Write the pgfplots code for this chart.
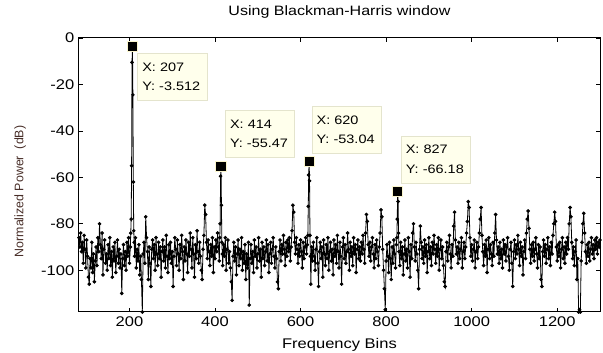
\documentclass[border=0pt]{standalone}
\usepackage{fontspec}
\setmainfont{Liberation Sans}[FakeStretch=1.18]
\newfontfamily\plainfont{Liberation Sans}
\usepackage{pgfplots}
\pgfplotsset{compat=1.18}
\definecolor{tipfill}{RGB}{255,255,236}
\definecolor{tipdraw}{RGB}{228,228,205}
\definecolor{tipedge}{RGB}{250,245,205}
\definecolor{ylab}{RGB}{72,46,40}
\begin{document}
\begin{tikzpicture}[tip/.style={draw=tipdraw, fill=tipfill, line width=0.4pt, text width=45pt, align=left, inner xsep=3.4pt, minimum height=35.25pt, font=\fontsize{9.2}{14.5}\selectfont}]
\path[use as bounding box] (-59.25pt,-30.75pt) rectangle (393pt,234pt);
\begin{axis}[
  scale only axis, width=390.75pt, height=205.5pt,
  xmin=82, xmax=1300, ymin=-118, ymax=0,
  xtick={200,400,...,1200}, ytick={-100,-80,...,0},
  tick align=inside, major tick length=3pt,
  axis line style={line width=0.75pt},
  every tick/.style={black, line width=0.5pt},
  /pgf/number format/assume math mode=true,
  /pgf/number format/1000 sep={},
  ticklabel style={font=\fontsize{10.5}{12}\selectfont},
  title={Using Blackman-Harris window},
  title style={font=\fontsize{10.2}{12}\selectfont, at={(axis description cs:0.5,1)}, anchor=center, yshift=13.5pt},
  xlabel={Frequency Bins},
  xlabel style={font=\fontsize{10.5}{12}\selectfont, at={(axis description cs:0.5,0)}, anchor=center, yshift=-24.5pt},
  ylabel={Normalized Power\ \ (dB)},
  ylabel style={font=\plainfont\fontsize{9.3}{12}\selectfont, text=ylab, at={(axis description cs:-0.113,0.44)}, anchor=center},
]
\addplot[black, line width=0.6pt, mark=*, mark size=1.05pt] coordinates {
(82,-86) (84,-90) (86,-84) (88,-92) (90,-88) (92,-97) (94,-85) (96,-91) (98,-99) (100,-87)
(102,-94) (104,-103) (106,-106) (108,-95) (110,-99) (112,-88) (114,-101) (116,-93) (118,-105) (120,-96)
(122,-90) (124,-98) (126,-86) (128,-92) (130,-80) (132,-89) (134,-95) (136,-84) (138,-102) (140,-91)
(142,-87) (144,-97) (146,-93) (148,-100) (150,-89) (152,-95) (154,-86) (156,-98) (158,-92) (160,-103)
(162,-90) (164,-96) (166,-88) (168,-101) (170,-94) (172,-87) (174,-97) (176,-91) (178,-99) (180,-93)
(182,-110) (184,-95) (186,-89) (188,-98) (190,-92) (192,-100) (194,-88) (196,-94) (198,-86) (200,-97)
(202,-90) (203,-84) (204,-78) (205,-55) (206,-10.5) (207,-3.512) (208,-24.5) (209,-62) (210,-83) (211,-88) (212,-94)
(214,-86) (216,-99) (218,-91) (220,-96) (222,-89) (224,-102) (226,-94) (228,-104) (230,-118) (232,-93)
(234,-88) (236,-97) (238,-77) (240,-86) (242,-92) (244,-104) (246,-90) (248,-97) (250,-107) (252,-91)
(254,-87) (256,-95) (258,-89) (260,-100) (262,-86) (264,-93) (266,-98) (268,-88) (270,-95) (272,-90)
(274,-103) (276,-92) (278,-87) (280,-96) (282,-90) (284,-99) (286,-85) (288,-94) (290,-101) (292,-89)
(294,-95) (296,-88) (298,-97) (300,-92) (302,-107) (304,-94) (306,-86) (308,-91) (310,-98) (312,-87)
(314,-93) (316,-100) (318,-89) (320,-95) (322,-85) (324,-92) (326,-104) (328,-90) (330,-96) (332,-87)
(334,-93) (336,-101) (338,-88) (340,-94) (342,-84) (344,-91) (346,-99) (348,-86) (350,-93) (352,-103)
(354,-89) (356,-95) (358,-83) (360,-92) (362,-97) (364,-88) (366,-94) (368,-100) (370,-104) (372,-91)
(374,-85) (376,-72) (378,-76) (380,-88) (382,-95) (384,-87) (386,-92) (388,-98) (390,-89) (392,-94)
(394,-86) (396,-101) (398,-90) (400,-95) (402,-87) (404,-92) (406,-84) (408,-90) (410,-96) (411,-86) (412,-80) (413,-59.5) (414,-55.47) (415,-72) (416,-88) (417,-93)
(418,-98) (420,-89) (422,-94) (424,-86) (426,-100) (428,-91) (430,-87) (432,-97) (434,-92) (436,-99)
(438,-105) (440,-113) (442,-94) (444,-88) (446,-96) (448,-90) (450,-102) (452,-93) (454,-87) (456,-98)
(458,-91) (460,-95) (462,-86) (464,-100) (466,-92) (468,-97) (470,-89) (472,-104) (474,-93) (476,-99)
(478,-88) (480,-115) (482,-95) (484,-89) (486,-97) (488,-92) (490,-101) (492,-87) (494,-94) (496,-90)
(498,-99) (500,-93) (502,-86) (504,-96) (506,-91) (508,-103) (510,-88) (512,-95) (514,-90) (516,-98)
(518,-92) (520,-87) (522,-96) (524,-89) (526,-101) (528,-93) (530,-88) (532,-97) (534,-91) (536,-86)
(538,-94) (540,-99) (542,-90) (544,-95) (546,-105) (548,-108) (550,-92) (552,-87) (554,-96) (556,-89)
(558,-93) (560,-85) (562,-91) (564,-98) (566,-88) (568,-94) (570,-87) (572,-92) (574,-86) (576,-96)
(578,-90) (580,-83) (582,-72) (584,-75) (586,-88) (588,-93) (590,-86) (592,-91) (594,-97) (596,-89)
(598,-94) (600,-87) (602,-92) (604,-99) (606,-88) (608,-95) (610,-90) (612,-86) (614,-93) (616,-89) (617,-85) (618,-72.5) (619,-59) (620,-53.04) (621,-61.5) (622,-85) (623,-94)
(624,-106) (626,-90) (628,-96) (630,-88) (632,-94) (634,-100) (636,-91) (638,-86) (640,-97) (642,-107)
(644,-92) (646,-88) (648,-95) (650,-90) (652,-103) (654,-87) (656,-93) (658,-98) (660,-89) (662,-95)
(664,-86) (666,-100) (668,-92) (670,-88) (672,-96) (674,-91) (676,-102) (678,-87) (680,-94) (682,-89)
(684,-97) (686,-85) (688,-92) (690,-99) (692,-88) (694,-94) (696,-106) (698,-90) (700,-86) (702,-95)
(704,-89) (706,-97) (708,-92) (710,-84) (712,-91) (714,-100) (716,-88) (718,-94) (720,-90) (722,-98)
(724,-86) (726,-93) (728,-89) (730,-101) (732,-91) (734,-87) (736,-95) (738,-90) (740,-96) (742,-88)
(744,-93) (746,-85) (748,-91) (750,-97) (752,-84) (754,-76) (756,-79) (758,-89) (760,-94) (762,-88)
(764,-96) (766,-90) (768,-86) (770,-93) (772,-99) (774,-89) (776,-95) (778,-87) (780,-92) (782,-98)
(784,-90) (786,-84) (788,-74) (790,-77) (792,-91) (794,-100) (796,-108) (798,-117) (800,-96) (802,-89)
(804,-94) (806,-101) (808,-88) (810,-95) (812,-104) (814,-90) (816,-97) (818,-87) (820,-93) (822,-99)
(824,-89) (825,-86) (826,-78) (827,-66.18) (828,-70.4) (829,-84) (830,-92) (832,-98) (834,-88) (836,-95) (838,-90) (840,-102)
(842,-93) (844,-87) (846,-96) (848,-91) (850,-99) (852,-86) (854,-92) (856,-103) (858,-89) (860,-95)
(862,-84) (864,-80) (866,-90) (868,-96) (870,-88) (872,-93) (874,-100) (876,-108) (878,-91) (880,-81)
(882,-88) (884,-95) (886,-90) (888,-97) (890,-87) (892,-94) (894,-89) (896,-101) (898,-92) (900,-86)
(902,-95) (904,-90) (906,-98) (908,-88) (910,-93) (912,-85) (914,-91) (916,-97) (918,-89) (920,-94)
(922,-86) (924,-100) (926,-91) (928,-87) (930,-95) (932,-90) (934,-98) (936,-105) (938,-107) (940,-92)
(942,-88) (944,-96) (946,-90) (948,-85) (950,-93) (952,-99) (954,-89) (956,-94) (958,-81) (960,-75)
(962,-87) (964,-93) (966,-90) (968,-97) (970,-88) (972,-95) (974,-91) (976,-86) (978,-99) (980,-92)
(982,-88) (984,-95) (986,-90) (988,-84) (990,-79) (992,-70.5) (994,-73) (996,-86) (998,-94) (1000,-89)
(1002,-96) (1004,-91) (1006,-87) (1008,-99) (1010,-92) (1012,-88) (1014,-95) (1016,-90) (1018,-84) (1020,-78)
(1022,-73) (1024,-85) (1026,-92) (1028,-98) (1030,-89) (1032,-94) (1034,-87) (1036,-101) (1038,-91) (1040,-86)
(1042,-95) (1044,-89) (1046,-93) (1048,-98) (1050,-88) (1052,-94) (1054,-84) (1056,-76) (1058,-87) (1060,-93)
(1062,-90) (1064,-97) (1066,-88) (1068,-95) (1070,-91) (1072,-99) (1074,-87) (1076,-93) (1078,-89) (1080,-96)
(1082,-90) (1084,-86) (1086,-94) (1088,-100) (1090,-91) (1092,-88) (1094,-97) (1096,-107) (1098,-92) (1100,-87)
(1102,-95) (1104,-89) (1106,-93) (1108,-85) (1110,-91) (1112,-98) (1114,-88) (1116,-94) (1118,-90) (1120,-102)
(1122,-92) (1124,-87) (1126,-95) (1128,-84) (1130,-78) (1132,-74.5) (1134,-82) (1136,-91) (1138,-97) (1140,-89)
(1142,-94) (1144,-88) (1146,-96) (1148,-91) (1150,-86) (1152,-93) (1154,-99) (1156,-89) (1158,-95) (1160,-90)
(1162,-104) (1164,-107) (1166,-92) (1168,-87) (1170,-94) (1172,-89) (1174,-97) (1176,-91) (1178,-86) (1180,-95)
(1182,-90) (1184,-98) (1186,-88) (1188,-93) (1190,-85) (1192,-80) (1194,-75) (1196,-79) (1198,-90) (1200,-96)
(1202,-89) (1204,-94) (1206,-88) (1208,-99) (1210,-91) (1212,-86) (1214,-95) (1216,-90) (1218,-97) (1220,-88)
(1222,-93) (1224,-86) (1226,-91) (1228,-80) (1230,-73) (1232,-77) (1234,-88) (1236,-95) (1238,-90) (1240,-98)
(1242,-92) (1244,-87) (1246,-104) (1248,-95) (1250,-118) (1252,-117) (1254,-118) (1256,-96) (1258,-88) (1260,-80)
(1262,-75.5) (1264,-84) (1266,-92) (1268,-97) (1270,-89) (1272,-94) (1274,-88) (1276,-96) (1278,-91) (1280,-86)
(1282,-93) (1284,-89) (1286,-95) (1288,-87) (1290,-91) (1292,-86) (1294,-93) (1296,-88) (1298,-90) (1300,-87)
};
\addplot[only marks, mark=square*, mark size=3.8pt, mark options={fill=black, draw=tipedge, line width=0.7pt}] coordinates {
(207,-3.512) (414,-55.47) (620,-53.04) (827,-66.18)
};
\node[tip, anchor=north west, xshift=3.75pt, yshift=-4.9pt] at (axis cs:207,-3.512) {X: 207\\Y: -3.512};
\node[tip, anchor=south west, xshift=3.15pt, yshift=6.75pt] at (axis cs:414,-55.47) {X: 414\\Y: -55.47};
\node[tip, anchor=south west, xshift=2pt, yshift=5.5pt] at (axis cs:620,-53.04) {X: 620\\Y: -53.04};
\node[tip, anchor=south west, xshift=2.5pt, yshift=6.45pt] at (axis cs:827,-66.18) {X: 827\\Y: -66.18};
\end{axis}
\end{tikzpicture}
\end{document}
